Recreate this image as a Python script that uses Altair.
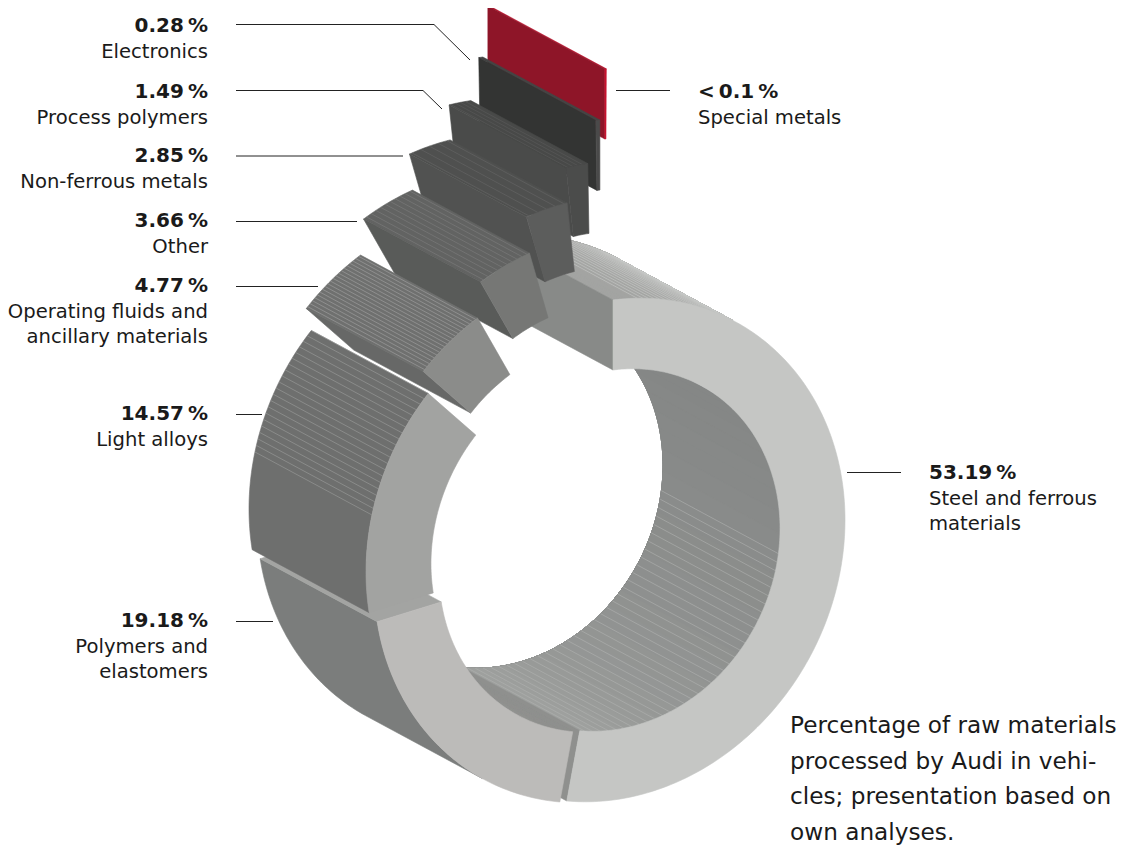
import math
import altair as alt
import pandas as pd

# ---- data -----------------------------------------------------------------
categories = ["Steel and ferrous materials", "Polymers and elastomers", "Light alloys",
              "Operating fluids and ancillary materials", "Other", "Non-ferrous metals",
              "Process polymers", "Electronics", "Special metals"]
percents = [53.19, 19.18, 14.57, 4.77, 3.66, 2.85, 1.49, 0.28, 0.1]
value_labels = ["53.19\u2009%", "19.18\u2009%", "14.57\u2009%", "4.77\u2009%", "3.66\u2009%",
                "2.85\u2009%", "1.49\u2009%", "0.28\u2009%", "<\u20090.1\u2009%"]
name_lines = [["Steel and ferrous", "materials"], ["Polymers and", "elastomers"], ["Light alloys"],
              ["Operating fluids and", "ancillary materials"], ["Other"], ["Non-ferrous metals"],
              ["Process polymers"], ["Electronics"], ["Special metals"]]
note_lines = ["Percentage of raw materials", "processed by Audi in vehi-",
              "cles; presentation based on", "own analyses."]

# ---- layout of the exploded ring ------------------------------------------
CX, CY = 613, 550
UX, UY = 232, -30
VX, VY = 0, -250
INNER = 0.72
DX, DY = -117, -63
explode_x = [0, -7, -15, -20, -17, -20, -21, -13, -8]
explode_y = [0, 1, -8, -30, -66, -102, -137, -180, -231]
front_col = ["#c5c6c4", "#bcbbb9", "#a2a3a1", "#8b8c8a", "#767775", "#5c5d5c", "#4b4c4b", "#4a4a4a", "#c8102e"]
outer_col = ["#a3a4a2", "#7b7d7c", "#6e6f6e", "#6f706f", "#626362", "#4f504f", "#484948", "#444444", "#b8122e"]
outer_end = ["#c0c1bf", "#7b7d7c", "#6e6f6e", "#6f706f", "#626362", "#4f504f", "#484948", "#444444", "#b8122e"]
inner_col = ["#858786", "#8f908e", "#7e7f7e", "#777777", "#666666", "#555555", "#444444", "#333333", "#7a1022"]
inner_end = ["#a0a2a0", "#969795", "#7e7f7e", "#777777", "#666666", "#555555", "#444444", "#333333", "#7a1022"]
start_col = ["#888a88", "#888a88", "#7a7b7a", "#676867", "#595b59", "#515251", "#4a4b4a", "#333433", "#8e1528"]
end_col = ["#8f908e", "#a3a4a2", "#8a8b89", "#777777", "#666666", "#555555", "#444444", "#333333", "#8e1528"]
# stripe ranges on the walls: piece, wall, from angle, to angle, step, colour
stripes = [(0, "inner", 98, 191, 2.7, "#b0b2b0"), (0, "outer", 6, 32, 1.4, "#c8c9c7"),
           (2, "outer", 283, 313, 1.5, "#9c9d9c"), (3, "outer", 313.5, 330, 0.85, "#a2a3a2"),
           (4, "outer", 331, 343, 1.3, "#7d7e7d"), (5, "outer", 344, 353, 2.2, "#666766"),
           (6, "outer", 354, 358, 1.2, "#5a5b5a")]
paint_order = [0, 1, 8, 7, 6, 5, 4, 3, 2]

leaders = [[(847, 472.5), (901, 472.5)], [(236, 621.5), (273, 621.5)], [(236, 414.5), (262, 414.5)],
           [(236, 286.5), (318, 286.5)], [(236, 221.5), (357, 221.5)], [(236, 156), (403, 156)],
           [(236, 90.5), (423, 90.5), (442, 109)], [(236, 24.5), (434, 24.5), (470, 60)],
           [(616, 90.5), (670, 90.5)]]
leader_col = ["#222222", "#222222", "#222222", "#222222", "#222222", "#222222", "#222222", "#222222", "#222222"]
label_x = [929, 208, 208, 208, 208, 208, 208, 208, 698]
label_y = [479, 627, 420, 292, 227, 162, 98, 32, 98]
label_right = [False, True, True, True, True, True, True, True, False]
note_x, note_y = 790, [733, 769, 804, 840]


def mix(a, b, t):
    a = a.lstrip("#"); b = b.lstrip("#")
    return "#" + "".join("%02x" % round(int(a[i:i + 2], 16) * (1 - t) + int(b[i:i + 2], 16) * t) for i in (0, 2, 4))


starts = []
acc = 0.0
for p in percents:
    starts.append(acc)
    acc += p * 3.6


def pt(deg, r, i):
    s, c = math.sin(math.radians(deg)), math.cos(math.radians(deg))
    return (CX + explode_x[i] + r * (UX * s + VX * c), CY + explode_y[i] + r * (UY * s + VY * c))


rows = []
count = [0]


def poly(points, fill, stroke=None, sw=0.6):
    count[0] += 1
    pid = "p%05d" % count[0]
    pts = list(points)
    if fill != "none":
        pts = pts + [pts[0]]
    for j, (x, y) in enumerate(pts):
        rows.append({"pid": pid, "idx": j, "px": round(x, 2), "py": round(y, 2),
                     "f": "transparent" if fill == "none" else fill,
                     "s": stroke or fill, "sw": sw})


def back(p):
    return (p[0] + DX, p[1] + DY)


def visible(t, r, i, sign):
    p, q = pt(t, r, i), pt(t + 0.05, r, i)
    return ((q[0] - p[0]) * DY - (q[1] - p[1]) * DX) * sign > 0


def draw_piece(i):
    a0 = starts[i]
    a1 = a0 + percents[i] * 3.6
    n = max(1, math.ceil((a1 - a0) / 1.0))
    arc = [a0 + (a1 - a0) * k / n for k in range(n + 1)]
    for wall, r, sign, col0, col1 in (("outer", 1.0, -1, outer_col[i], outer_end[i]),
                                      ("inner", INNER, 1, inner_col[i], inner_end[i])):
        vis = [a for a in arc if visible(a, r, i, sign)]
        if len(vis) >= 2:
            if col0 == col1:
                fr = [pt(a, r, i) for a in vis]
                poly(fr + [back(p) for p in reversed(fr)], col0)
            else:
                # graded wall: overlapping bands, painted in turn
                bands = 24
                for b in range(bands):
                    tb = b / bands
                    sub = vis[int(tb * (len(vis) - 1)):]
                    if len(sub) < 2:
                        continue
                    fr = [pt(a, r, i) for a in sub]
                    poly(fr + [back(p) for p in reversed(fr)], mix(col0, col1, tb ** 2))
        for (pi, w, s0, s1, step, col) in stripes:
            if pi == i and w == wall:
                t = s0
                while t <= s1:
                    if visible(t, r, i, sign):
                        p = pt(t, r, i)
                        poly([p, back(p)], "none", col, 0.6)
                    t += step
    # end faces
    for ang, col, sign in ((a0, start_col[i], -1), (a1, end_col[i], 1)):
        o, inn = pt(ang, 1.0, i), pt(ang, INNER, i)
        rx, ry = o[0] - inn[0], o[1] - inn[1]
        if (rx * DY - ry * DX) * sign > 0:
            poly([o, inn, back(inn), back(o)], col)
    # front face
    poly([pt(a, 1.0, i) for a in arc] + [pt(a, INNER, i) for a in reversed(arc)], front_col[i])


for i in paint_order:
    draw_piece(i)

for i, lead in enumerate(leaders):
    poly(lead, "none", leader_col[i], 1.0)

shapes = pd.DataFrame(rows)

tx = []
for i, cat in enumerate(categories):
    al = "right" if label_right[i] else "left"
    tx.append({"t": value_labels[i], "x": label_x[i], "y": label_y[i], "a": al, "w": "bold"})
    for j, ln in enumerate(name_lines[i]):
        tx.append({"t": ln, "x": label_x[i], "y": label_y[i] + 25.5 * (j + 1), "a": al, "w": "normal"})
texts = pd.DataFrame(tx)
notes = pd.DataFrame({"t": note_lines, "x": [note_x] * 4, "y": note_y})

W, H = 1115, 838
xs = alt.Scale(domain=[8, 8 + W], range=[0, W], nice=False, zero=False)
ys = alt.Scale(domain=[8, 8 + H], range=[0, H], nice=False, zero=False)

shape_layer = alt.Chart(shapes).mark_line(interpolate="linear", strokeCap="butt", strokeJoin="round").encode(
    x=alt.X("px:Q", scale=xs, axis=None),
    y=alt.Y("py:Q", scale=ys, axis=None),
    detail="pid:N",
    order="idx:Q",
    fill=alt.Fill("f:N", scale=None),
    stroke=alt.Stroke("s:N", scale=None),
    strokeWidth=alt.StrokeWidth("sw:Q", scale=None),
)


def text_layer(df, align, weight, size):
    return alt.Chart(df).mark_text(align=align, baseline="alphabetic", font="DejaVu Sans", fontWeight=weight,
                                   fontSize=size, color="#1a1a1a").encode(
        x=alt.X("x:Q", scale=xs, axis=None), y=alt.Y("y:Q", scale=ys, axis=None), text="t:N")


layers = [shape_layer]
for a in ("left", "right"):
    layers.append(text_layer(texts[(texts.a == a) & (texts.w == "bold")], a, "bold", 20))
    layers.append(text_layer(texts[(texts.a == a) & (texts.w == "normal")], a, "normal", 19.6))
layers.append(text_layer(notes, "left", "normal", 23.2))

chart = alt.layer(*layers).properties(width=W, height=H, padding=0,
                                      autosize=alt.AutoSizeParams(type="none")).configure_view(stroke=None)
chart.save("out.html", embed_options={"renderer": "svg", "actions": False})
